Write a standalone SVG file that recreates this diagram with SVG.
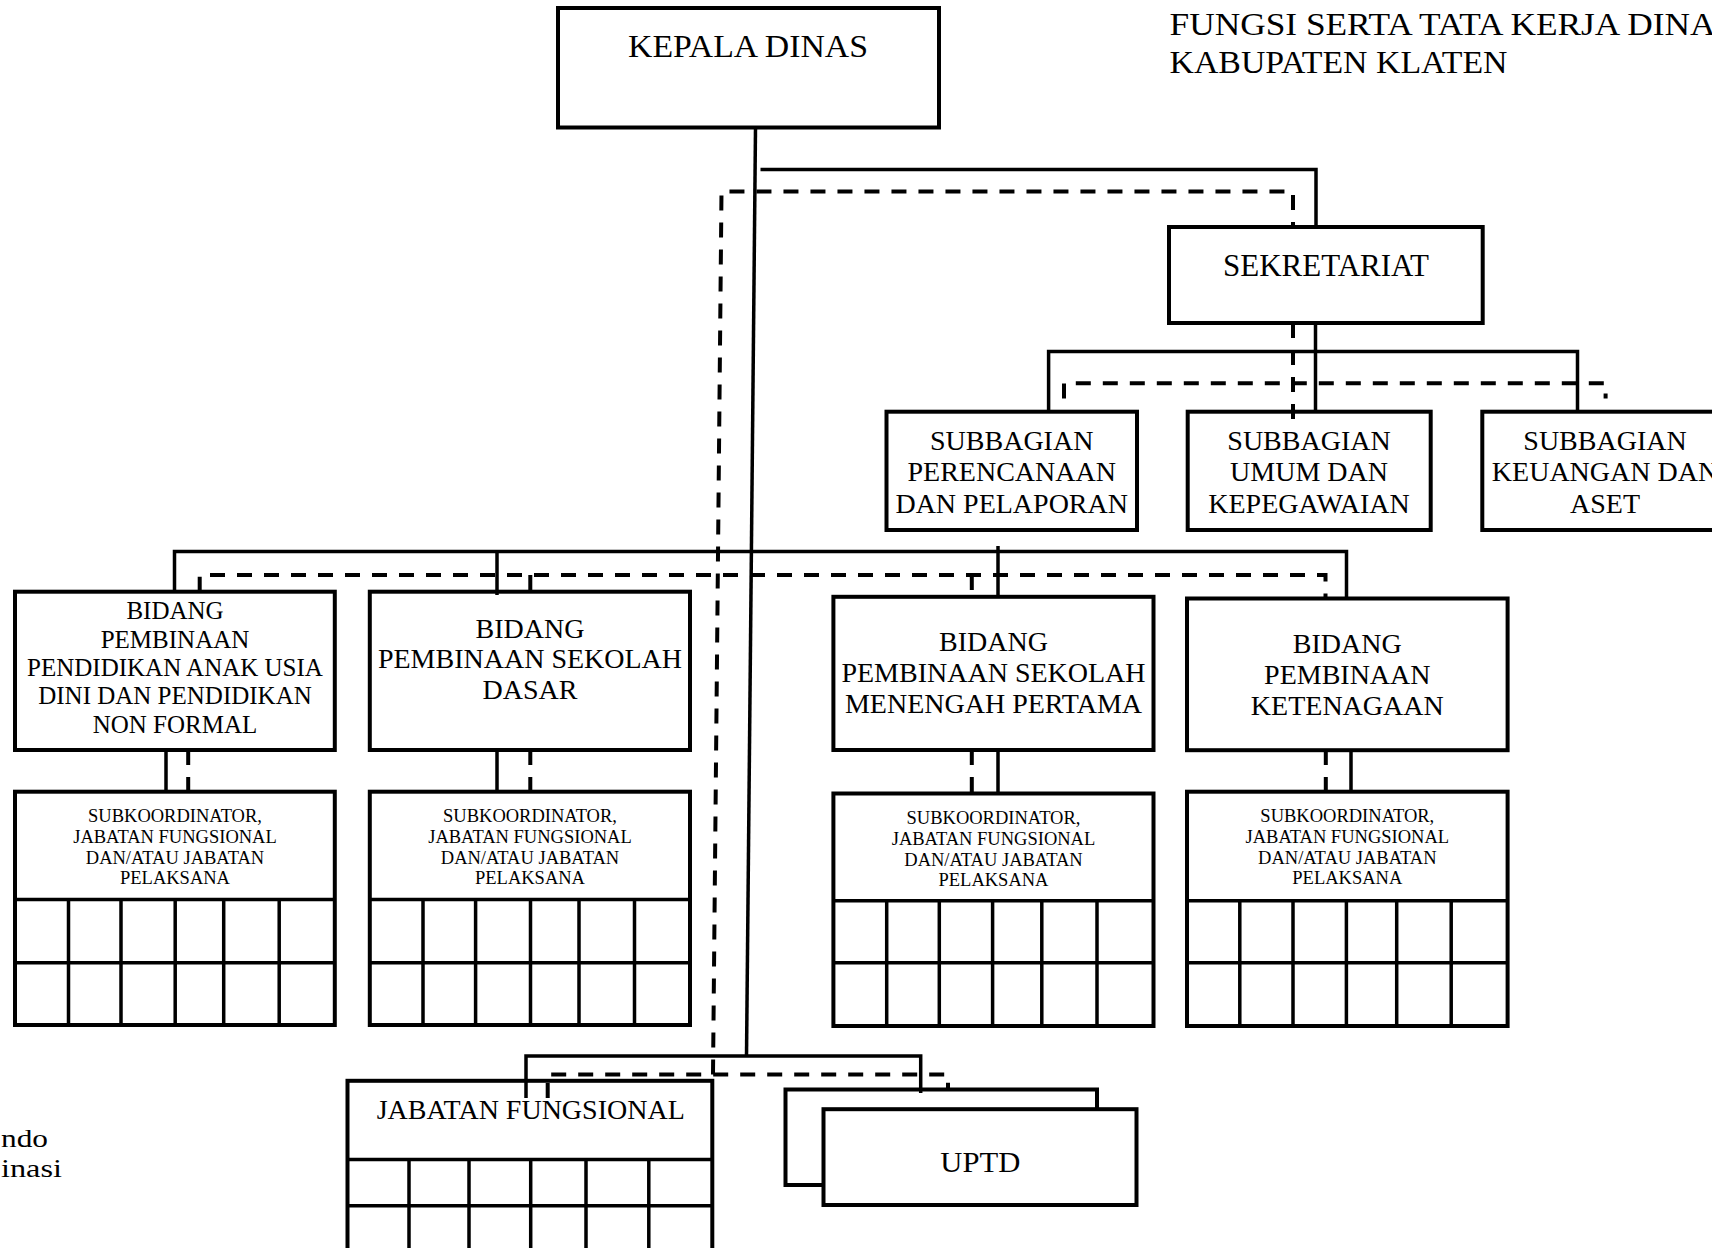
<svg xmlns="http://www.w3.org/2000/svg" width="1712" height="1248" viewBox="0 0 1712 1248">
<style>
.box{fill:#fff;stroke:#000;stroke-width:4}
.grid{fill:none;stroke:#000;stroke-width:3.5}
.ln{fill:none;stroke:#000;stroke-width:3.5}
.dash{fill:none;stroke:#000;stroke-width:4;stroke-dasharray:15 12}
text{font-family:"Liberation Serif","Times New Roman",serif;fill:#000}
.c{text-anchor:middle}
.f28{font-size:28px}
.f25{font-size:25px}
.f18{font-size:18.5px}
</style>
<rect x="0" y="0" width="1712" height="1248" fill="#fff"/>

<g id="title">
<text x="1169.5" y="35" font-size="31" textLength="546" lengthAdjust="spacingAndGlyphs">FUNGSI SERTA TATA KERJA DINA</text>
<text x="1169.5" y="73" font-size="31" textLength="338" lengthAdjust="spacingAndGlyphs">KABUPATEN KLATEN</text>
</g>
<g id="legend">
<text x="1" y="1146.5" font-size="25" textLength="47" lengthAdjust="spacingAndGlyphs">ndo</text>
<text x="1" y="1177" font-size="25" textLength="61" lengthAdjust="spacingAndGlyphs">inasi</text>
</g>

<g id="kepala-dinas">
<rect class="box" x="558" y="8" width="381" height="119.5"/>
<text class="c" x="748" y="57" font-size="31" textLength="240" lengthAdjust="spacingAndGlyphs">KEPALA DINAS</text>
</g>

<g id="sekretariat">
<rect class="box" x="1169" y="227" width="313.7" height="96"/>
<text class="c" x="1326" y="276" font-size="31">SEKRETARIAT</text>
</g>

<g id="subbagian-perencanaan">
<rect class="box" x="886.5" y="411.7" width="250.5" height="118.3"/>
<text class="c f28" x="1011.7" y="450">SUBBAGIAN</text>
<text class="c f28" x="1011.7" y="481">PERENCANAAN</text>
<text class="c f28" x="1011.7" y="512.5">DAN PELAPORAN</text>
</g>
<g id="subbagian-umum">
<rect class="box" x="1187.7" y="411.7" width="243" height="118.3"/>
<text class="c f28" x="1309" y="450">SUBBAGIAN</text>
<text class="c f28" x="1309" y="481">UMUM DAN</text>
<text class="c f28" x="1309" y="512.5">KEPEGAWAIAN</text>
</g>
<g id="subbagian-keuangan">
<rect class="box" x="1482.3" y="411.7" width="246" height="118.3"/>
<text class="c f28" x="1605" y="450">SUBBAGIAN</text>
<text class="c f28" x="1605" y="481">KEUANGAN DAN</text>
<text class="c f28" x="1605" y="512.5">ASET</text>
</g>

<g id="bidang-paud">
<rect class="box" x="15" y="591.7" width="319.8" height="158.3"/>
<text class="c f25" x="175" y="619.3">BIDANG</text>
<text class="c f25" x="175" y="647.5">PEMBINAAN</text>
<text class="c f25" x="175" y="675.7">PENDIDIKAN ANAK USIA</text>
<text class="c f25" x="175" y="704">DINI DAN PENDIDIKAN</text>
<text class="c f25" x="175" y="733.3">NON FORMAL</text>
</g>
<g id="bidang-sd">
<rect class="box" x="369.8" y="591.7" width="320.2" height="158.3"/>
<text class="c f28" x="530" y="637.5">BIDANG</text>
<text class="c f28" x="530" y="668">PEMBINAAN SEKOLAH</text>
<text class="c f28" x="530" y="698.5">DASAR</text>
</g>
<g id="bidang-smp">
<rect class="box" x="833.4" y="596.8" width="320.1" height="153.2"/>
<text class="c f28" x="993.5" y="650.5">BIDANG</text>
<text class="c f28" x="993.5" y="681.7">PEMBINAAN SEKOLAH</text>
<text class="c f28" x="993.5" y="713">MENENGAH PERTAMA</text>
</g>
<g id="bidang-ketenagaan">
<rect class="box" x="1187" y="598.5" width="320.6" height="151.7"/>
<text class="c f28" x="1347.3" y="652.5">BIDANG</text>
<text class="c f28" x="1347.3" y="683.7">PEMBINAAN</text>
<text class="c f28" x="1347.3" y="715.3">KETENAGAAN</text>
</g>

<g id="subkoordinator-paud">
<rect class="box" x="15" y="791.7" width="319.8" height="233.3"/>
<path class="grid" d="M15,899.5H334.8M15,962.7H334.8M68.5,899.5V1025M121,899.5V1025M175.2,899.5V1025M223.7,899.5V1025M279.2,899.5V1025"/>
<text class="c f18" x="175" y="821.7">SUBKOORDINATOR,</text>
<text class="c f18" x="175" y="843.3">JABATAN FUNGSIONAL</text>
<text class="c f18" x="175" y="864.3">DAN/ATAU JABATAN</text>
<text class="c f18" x="175" y="884.3">PELAKSANA</text>
</g>
<g id="subkoordinator-sd">
<rect class="box" x="369.8" y="791.7" width="320.2" height="233.3"/>
<path class="grid" d="M369.8,899.5H690M369.8,962.7H690M423,899.5V1025M475.6,899.5V1025M530.5,899.5V1025M579,899.5V1025M634.5,899.5V1025"/>
<text class="c f18" x="530" y="821.7">SUBKOORDINATOR,</text>
<text class="c f18" x="530" y="843.3">JABATAN FUNGSIONAL</text>
<text class="c f18" x="530" y="864.3">DAN/ATAU JABATAN</text>
<text class="c f18" x="530" y="884.3">PELAKSANA</text>
</g>
<g id="subkoordinator-smp">
<rect class="box" x="833.4" y="793.5" width="320.1" height="232.5"/>
<path class="grid" d="M833.4,900.7H1153.5M833.4,962.7H1153.5M886.7,900.7V1026M939.3,900.7V1026M992.6,900.7V1026M1041.8,900.7V1026M1097,900.7V1026"/>
<text class="c f18" x="993.5" y="823.5">SUBKOORDINATOR,</text>
<text class="c f18" x="993.5" y="845.1">JABATAN FUNGSIONAL</text>
<text class="c f18" x="993.5" y="866.1">DAN/ATAU JABATAN</text>
<text class="c f18" x="993.5" y="886.1">PELAKSANA</text>
</g>
<g id="subkoordinator-ketenagaan">
<rect class="box" x="1187" y="791.7" width="320.6" height="234.3"/>
<path class="grid" d="M1187,900.7H1507.6M1187,962.7H1507.6M1239.8,900.7V1026M1293,900.7V1026M1346.4,900.7V1026M1396.7,900.7V1026M1451.2,900.7V1026"/>
<text class="c f18" x="1347.3" y="821.7">SUBKOORDINATOR,</text>
<text class="c f18" x="1347.3" y="843.3">JABATAN FUNGSIONAL</text>
<text class="c f18" x="1347.3" y="864.3">DAN/ATAU JABATAN</text>
<text class="c f18" x="1347.3" y="884.3">PELAKSANA</text>
</g>

<g id="jabatan-fungsional">
<rect class="box" x="347.5" y="1080.8" width="364.8" height="200"/>
<path class="grid" d="M347.5,1159.4H712.3M347.5,1205.8H712.3M409,1159.4V1260M469,1159.4V1260M530.7,1159.4V1260M586,1159.4V1260M648.8,1159.4V1260"/>
<text class="c f28" x="530.7" y="1119.3">JABATAN FUNGSIONAL</text>
</g>

<g id="uptd">
<rect class="box" x="785.5" y="1089.5" width="311.5" height="95.5"/>
<rect class="box" x="823.5" y="1109.2" width="313" height="95.8"/>
<text class="c" x="980.3" y="1171.7" font-size="29" textLength="80" lengthAdjust="spacingAndGlyphs">UPTD</text>
</g>

<g id="connectors">
<path class="ln" d="M755.5,128L746.5,1056"/>
<path class="ln" d="M760.5,169.5H1316V227"/>
<path class="ln" d="M1315.5,323V411.7"/>
<path class="ln" d="M1048.6,411.7V351.5H1577.5V411.7"/>
<path class="ln" d="M174.5,591.7V551.5H1346.5V599"/>
<path class="ln" d="M497,551.5V595"/>
<path class="ln" d="M998,546V596.7"/>
<path class="ln" d="M166,750V791.7M497,750V791.7M998,750V793.5M1351,750V791.7"/>
<path class="ln" d="M526,1098V1056H920.7V1093"/>

<path class="dash" d="M713,1074.5L721.5,191.5H1293V227"/>
<path class="dash" d="M1293,323V421.7"/>
<path class="dash" d="M1064,398.5V383.3H1605.6V398.5"/>
<path class="dash" d="M199.7,591.7V575H1325.5V599"/>
<path class="dash" d="M530.3,575V591.7M971.8,575V596.7"/>
<path class="dash" d="M188.2,750V791.7M530.3,750V791.7M971.8,750V793.5M1325.8,750V791.7"/>
<path class="dash" d="M547.7,1098V1074.5H948V1090"/>
</g>
</svg>
